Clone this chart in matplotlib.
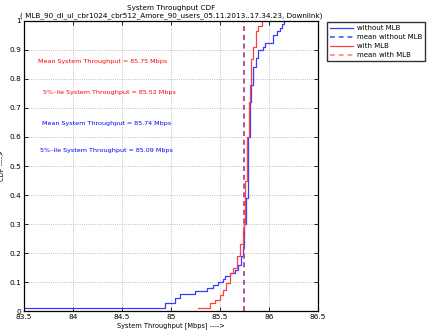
import numpy as np
import matplotlib
matplotlib.use("Agg")
import matplotlib.pyplot as plt

# CDF steps (throughput in Mbps, cumulative probability)
x_without = [83.50, 84.94, 85.04, 85.09, 85.24, 85.37, 85.43, 85.48, 85.53, 85.55,
             85.60, 85.65, 85.68, 85.71, 85.73, 85.75, 85.77, 85.79, 85.81, 85.82,
             85.84, 85.87, 85.89, 85.94, 85.96, 86.04, 86.08, 86.11, 86.13, 86.15]
cdf_without = [0.011, 0.028, 0.045, 0.060, 0.070, 0.080, 0.090, 0.100, 0.110, 0.120,
               0.130, 0.140, 0.160, 0.190, 0.220, 0.300, 0.390, 0.600, 0.720, 0.780,
               0.840, 0.872, 0.900, 0.910, 0.924, 0.953, 0.965, 0.976, 0.990, 1.000]

x_with = [85.28, 85.40, 85.45, 85.50, 85.53, 85.56, 85.60, 85.63, 85.67, 85.70,
          85.73, 85.74, 85.76, 85.78, 85.80, 85.81, 85.82, 85.84, 85.87, 85.89, 85.93]
cdf_with = [0.011, 0.026, 0.038, 0.055, 0.072, 0.096, 0.130, 0.150, 0.190, 0.230,
            0.280, 0.300, 0.450, 0.600, 0.720, 0.780, 0.870, 0.910, 0.966, 0.983, 1.000]

mean_without = 85.74
mean_with = 85.75
pct5_without = 85.09
pct5_with = 85.52

blue = "#3a3aff"
red = "#ff4040"

fig = plt.figure(figsize=(4.3, 3.33), dpi=100)
ax = fig.add_axes([0.0558, 0.066, 0.6837, 0.871])

ax.step(x_without, cdf_without, where="post", color=blue, lw=0.9, label="without MLB")
ax.plot([mean_without, mean_without], [0, 1], "--", color=blue, lw=1.4, alpha=0.75,
        dashes=(2.5, 2), label="mean without MLB")
ax.step(x_with, cdf_with, where="post", color=red, lw=0.9, label="with MLB")
ax.plot([mean_with, mean_with], [0, 1], "--", color=red, lw=1.4, alpha=0.55,
        dashes=(2.5, 2), label="mean with MLB")

fs = 4.6
ax.text(83.64, 0.862, f"Mean System Throughput = {mean_with:.2f} Mbps", color="red", fontsize=fs, va="center")
ax.text(83.69, 0.752, f"5%\u2013ile System Throughput = {pct5_with:.2f} Mbps", color="red", fontsize=fs, va="center")
ax.text(83.68, 0.648, f"Mean System Throughput = {mean_without:.2f} Mbps", color="blue", fontsize=fs, va="center")
ax.text(83.66, 0.555, f"5%\u2013ile System Throughput = {pct5_without:.2f} Mbps", color="blue", fontsize=fs, va="center")

ax.set_xlim(83.5, 86.5)
ax.set_ylim(0, 1)
ax.set_xticks(np.arange(83.5, 86.51, 0.5))
ax.set_xticklabels(["83.5", "84", "84.5", "85", "85.5", "86", "86.5"])
ax.set_yticks(np.arange(0, 1.01, 0.1))
ax.set_yticklabels(["0", "0.1", "0.2", "0.3", "0.4", "0.5", "0.6", "0.7", "0.8", "0.9", "1"])
ax.tick_params(direction="in", labelsize=5.3, length=3, width=0.6, top=True, right=True, pad=2)
ax.grid(True, ls=":", color="#aaaaaa", lw=0.6)
for s in ax.spines.values():
    s.set_linewidth(0.9)

ax.set_title("System Throughput CDF\n( MLB_90_dl_ul_cbr1024_cbr512_Amore_90_users_05.11.2013..17.34.23, Downlink)",
             fontsize=5.2, pad=3, linespacing=1.15)
ax.set_xlabel("System Throughput [Mbps] ---->", fontsize=4.8, labelpad=1.5)
ax.set_ylabel("CDF ---->", fontsize=4.8, labelpad=3)

ax.legend(loc="upper left", bbox_to_anchor=(1.03, 0.995), fontsize=5.0, frameon=True,
          fancybox=False, edgecolor="black", handlelength=3.4, borderpad=0.4,
          labelspacing=0.42, handletextpad=0.5, borderaxespad=0)

fig.savefig("out.png", dpi=100)
